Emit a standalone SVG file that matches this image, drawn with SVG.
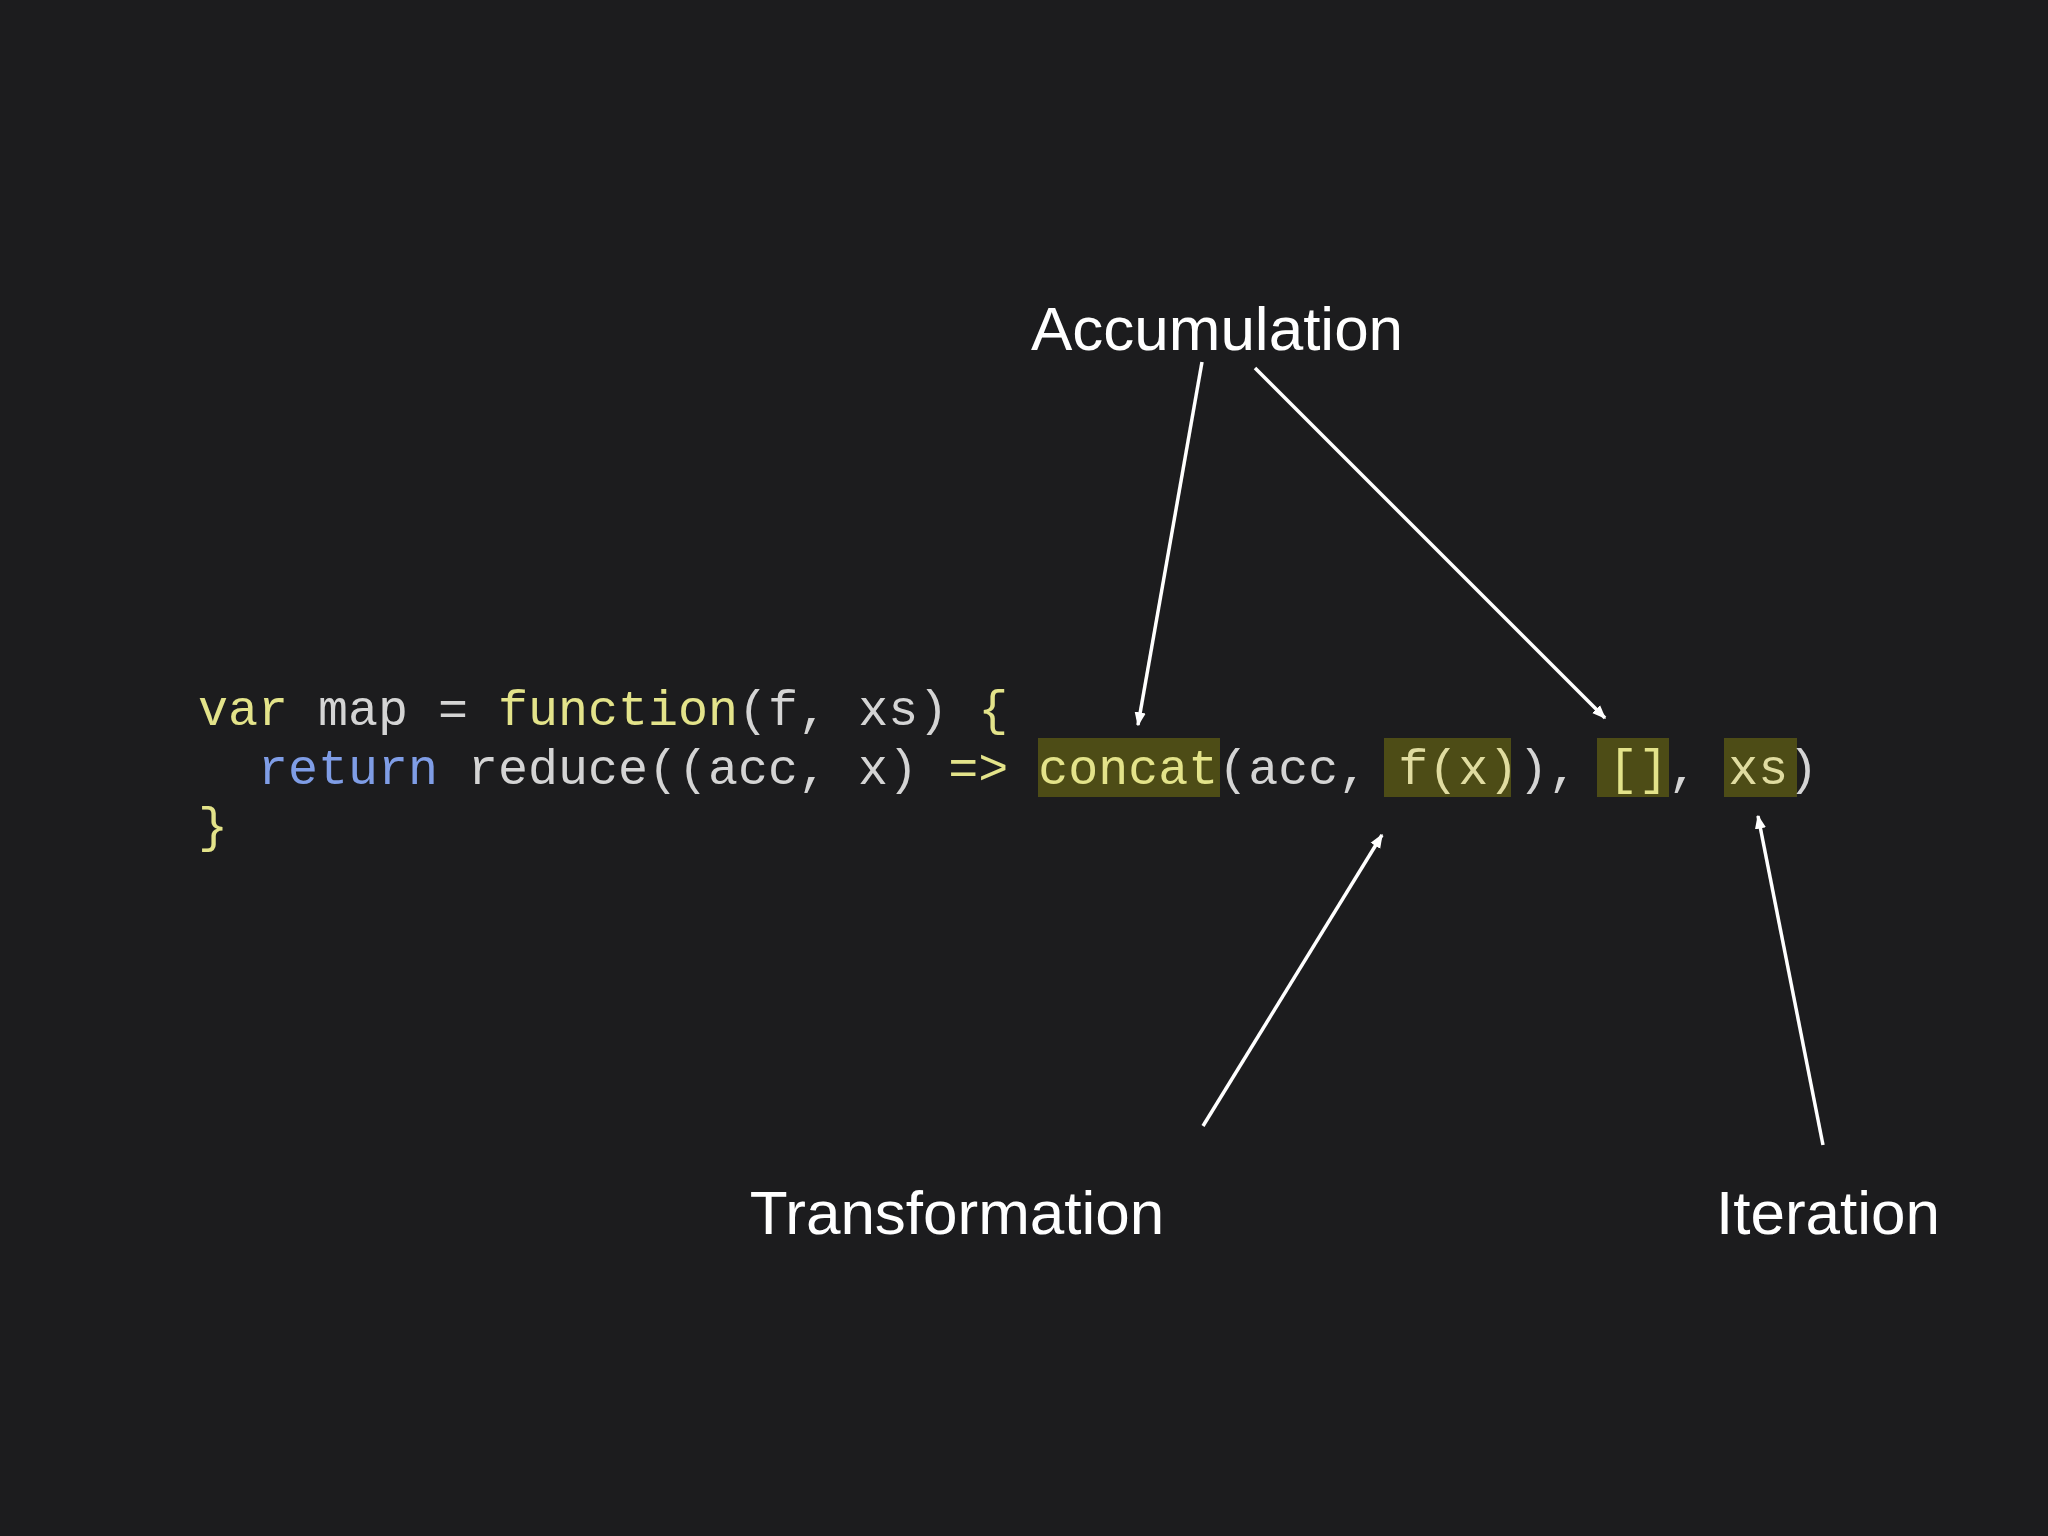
<svg xmlns="http://www.w3.org/2000/svg" width="2048" height="1536" viewBox="0 0 2048 1536">
<style>
.code{font-family:"Liberation Mono","Courier New",monospace;font-size:50px;fill:#d4d4d4}
.y{fill:#e3e38a}.b{fill:#7f9de6}
.lbl{font-family:"Liberation Sans",Arial,sans-serif;font-size:62px;fill:#ffffff;text-anchor:middle}
.hl{fill:#4d4c16}
.ar{stroke:#fff;stroke-width:3.5;fill:none;marker-end:url(#ah)}
</style>
<defs><marker id="ah" viewBox="0 0 10 10" refX="9" refY="5" markerWidth="4" markerHeight="4" orient="auto" markerUnits="strokeWidth"><path d="M0,1 L10,5 L0,9 z" fill="#fff"/></marker></defs>
<rect width="2048" height="1536" fill="#1c1c1e"/>
<g id="highlights">
<rect class="hl" x="1038" y="738" width="182" height="59"/>
<rect class="hl" x="1384" y="738" width="127" height="59"/>
<rect class="hl" x="1597" y="738" width="72" height="59"/>
<rect class="hl" x="1724" y="738" width="73" height="59"/>
</g>
<g id="code">
<text class="code" x="198" y="725" xml:space="preserve"><tspan class="y">var</tspan> map = <tspan class="y">function</tspan>(f, xs) <tspan class="y">{</tspan></text>
<text class="code" x="198" y="784" xml:space="preserve">  <tspan class="b">return</tspan> reduce((acc, x) <tspan class="y">=&gt;</tspan> <tspan class="y">concat</tspan>(acc, <tspan fill="#e0dca0">f(x)</tspan>), <tspan class="y">[]</tspan>, <tspan fill="#e0dca0">xs</tspan>)</text>
<text class="code y" x="198" y="842">}</text>
</g>
<g id="accumulation"><text class="lbl" x="1217" y="350">Accumulation</text></g>
<g id="transformation"><text class="lbl" x="957" y="1234">Transformation</text></g>
<g id="iteration"><text class="lbl" x="1828" y="1234">Iteration</text></g>
<g id="connectors">
<line class="ar" x1="1202" y1="362" x2="1138" y2="725"/>
<line class="ar" x1="1255" y1="368" x2="1605" y2="718"/>
<line class="ar" x1="1203" y1="1126" x2="1382" y2="835"/>
<line class="ar" x1="1823" y1="1145" x2="1758" y2="816"/>
</g>
</svg>
